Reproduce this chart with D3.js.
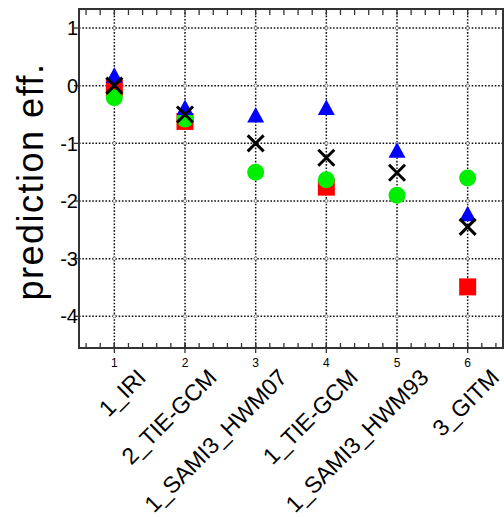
<!DOCTYPE html>
<html>
<head>
	<meta charset="UTF-8">
	<title>prediction eff.</title>
	<style>
		body { margin: 0; background: #fff; }
		text { font-family: "Liberation Sans", Arial, sans-serif; }
	</style>
</head>
<body>
<div id="chart"></div>
<script src="https://d3js.org/d3.v7.min.js"></script>
<script>
	// category names (x = 1..6)
	var models = ["1_IRI", "2_TIE-GCM", "1_SAMI3_HWM07", "1_TIE-GCM", "1_SAMI3_HWM93", "3_GITM"];
	var xTicks = [1, 2, 3, 4, 5, 6];
	var yTicks = [1, 0, -1, -2, -3, -4];

	// series values (null = not plotted)
	var redSquares   = [-0.04, -0.62, null, -1.76, null, -3.49];
	var greenCircles = [-0.21, -0.58, -1.50, -1.63, -1.90, -1.60];
	var blueTriangles= [0.18, -0.38, -0.51, -0.38, -1.12, -2.22];
	var blackCrosses = [0.00, -0.50, -1.00, -1.25, -1.51, -2.45];

	var w = 504, h = 517;
	var pLeft = 79, pRight = 503, pTop = 9, pBottom = 348;

	var svg = d3.select("#chart").append("svg")
		.attr("width", w)
		.attr("height", h);

	var xScale = d3.scaleLinear().domain([0.5, 6.5]).range([pLeft, pRight]);
	var yScale = d3.scaleLinear().domain([-4.55, 1.33]).range([pBottom, pTop]);

	/* grid */
	var grid = svg.append("g")
		.attr("stroke", "#111")
		.attr("stroke-width", 1.5)
		.attr("stroke-dasharray", "1.6,1.7");
	grid.selectAll("line.gx").data(xTicks).enter().append("line")
		.attr("x1", function(d){ return xScale(d); })
		.attr("x2", function(d){ return xScale(d); })
		.attr("y1", pTop).attr("y2", pBottom);
	grid.selectAll("line.gy").data(yTicks).enter().append("line")
		.attr("x1", pLeft).attr("x2", pRight)
		.attr("y1", function(d){ return yScale(d); })
		.attr("y2", function(d){ return yScale(d); });

	// little circles where grid lines meet
	var cross = [];
	xTicks.forEach(function(a){ yTicks.forEach(function(b){ cross.push([a, b]); }); });
	svg.append("g").selectAll("circle").data(cross).enter().append("circle")
		.attr("cx", function(d){ return xScale(d[0]); })
		.attr("cy", function(d){ return yScale(d[1]); })
		.attr("r", 1.6)
		.attr("fill", "#fff")
		.attr("stroke", "#555")
		.attr("stroke-width", 0.7);

	/* minor ticks on x (top and bottom), every 0.2 */
	var minor = d3.range(0.6, 6.5, 0.2).map(function(v){ return Math.round(v * 10) / 10; });
	var ticks = svg.append("g").attr("stroke", "#333").attr("stroke-width", 1.3);
	ticks.selectAll("line.tt").data(minor).enter().append("line")
		.attr("x1", function(d){ return xScale(d); })
		.attr("x2", function(d){ return xScale(d); })
		.attr("y1", pTop).attr("y2", pTop + 6);
	ticks.selectAll("line.tb").data(minor).enter().append("line")
		.attr("x1", function(d){ return xScale(d); })
		.attr("x2", function(d){ return xScale(d); })
		.attr("y1", pBottom).attr("y2", pBottom - 5);
	ticks.selectAll("line.tm").data(xTicks).enter().append("line")
		.attr("x1", function(d){ return xScale(d); })
		.attr("x2", function(d){ return xScale(d); })
		.attr("y1", pBottom - 5).attr("y2", pBottom + 5);
	ticks.selectAll("line.ty").data(yTicks).enter().append("line")
		.attr("x1", pLeft - 5).attr("x2", pLeft)
		.attr("y1", function(d){ return yScale(d); })
		.attr("y2", function(d){ return yScale(d); });

	/* frame */
	svg.append("rect")
		.attr("x", pLeft).attr("y", pTop)
		.attr("width", pRight - pLeft).attr("height", pBottom - pTop)
		.attr("fill", "none")
		.attr("stroke", "#333")
		.attr("stroke-width", 2);

	/* y tick labels */
	svg.append("g").selectAll("text").data(yTicks).enter().append("text")
		.attr("x", pLeft - 1)
		.attr("y", function(d){ return yScale(d); })
		.attr("dy", "0.36em")
		.attr("text-anchor", "end")
		.attr("font-size", "20px")
		.attr("fill", "#000")
		.text(function(d){ return d < 0 ? "-" + Math.abs(d) : d; });

	/* x tick numbers */
	svg.append("g").selectAll("text").data(xTicks).enter().append("text")
		.attr("x", function(d){ return xScale(d); })
		.attr("y", 367)
		.attr("text-anchor", "middle")
		.attr("font-size", "12px")
		.attr("fill", "#000")
		.text(function(d){ return d; });

	/* rotated model names */
	svg.append("g").selectAll("text").data(models).enter().append("text")
		.attr("transform", function(d, i){
			return "translate(" + (xScale(xTicks[i]) + 33) + ",379) rotate(-45)";
		})
		.attr("text-anchor", "end")
		.attr("font-size", "23px")
		.attr("fill", "#000")
		.text(function(d){ return d; });

	/* y axis title */
	svg.append("text")
		.attr("transform", "translate(43,181.5) rotate(-90)")
		.attr("text-anchor", "middle")
		.attr("font-size", "36px")
		.attr("letter-spacing", "1.5px")
		.attr("fill", "#000")
		.text("prediction eff.");

	/* markers */
	function pts(arr){
		var out = [];
		arr.forEach(function(v, i){ if (v !== null) out.push([xTicks[i], v]); });
		return out;
	}
	function pos(d){ return "translate(" + xScale(d[0]) + "," + yScale(d[1]) + ")"; }

	svg.append("g").selectAll("rect").data(pts(redSquares)).enter().append("rect")
		.attr("transform", pos)
		.attr("x", -8.5).attr("y", -8.5)
		.attr("width", 17).attr("height", 17)
		.attr("fill", "#ff0000");

	svg.append("g").selectAll("circle").data(pts(greenCircles)).enter().append("circle")
		.attr("transform", pos)
		.attr("r", 8.5)
		.attr("fill", "#00ee00");

	svg.append("g").selectAll("path").data(pts(blueTriangles)).enter().append("path")
		.attr("transform", pos)
		.attr("d", "M0,-8L8.5,7.5L-8.5,7.5Z")
		.attr("fill", "#0000ff");

	svg.append("g").selectAll("path").data(pts(blackCrosses)).enter().append("path")
		.attr("transform", pos)
		.attr("d", "M-8,-8L8,8M-8,8L8,-8")
		.attr("stroke", "#000")
		.attr("stroke-width", 3)
		.attr("fill", "none");
</script>
</body>
</html>
